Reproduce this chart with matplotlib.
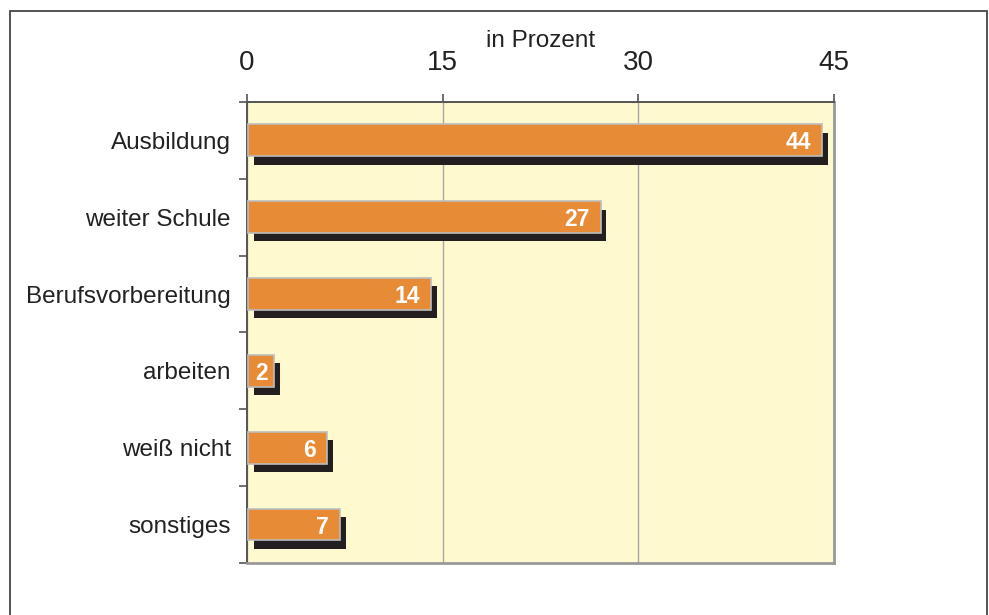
import matplotlib.pyplot as plt
import matplotlib.patheffects as pe
from matplotlib.patches import Rectangle
from matplotlib.ticker import FixedLocator

categories = ['Ausbildung', 'weiter Schule', 'Berufsvorbereitung', 'arbeiten', 'weiß nicht', 'sonstiges']
values = [44, 27, 14, 2, 6, 7]
xticks = [0, 15, 30, 45]

plt.rcParams['font.family'] = ['Liberation Sans', 'DejaVu Sans']

fig = plt.figure(figsize=(9.89, 6.15), dpi=100)
ax = fig.add_axes([0.2497, 0.0846, 0.5936, 0.7496])
ax.set_facecolor('#fff9cf')

ypos = list(range(len(categories)))
shadow = [pe.SimplePatchShadow(offset=(4.3, -6.0), shadow_rgbFace='#231f20', alpha=1.0), pe.Normal()]
bars = ax.barh(ypos, values, height=0.415, left=0.1, color='#e88b37',
               edgecolor='#bdbdbd', linewidth=1.2, zorder=3)
for b in bars:
    b.set_path_effects(shadow)

# value labels inside bar ends
for y, v in zip(ypos, values):
    if v < 3:
        ax.annotate(str(v), (v / 2 + 0.1, y), ha='center', va='center_baseline', color='white',
                    fontsize=16.5, fontweight='bold', zorder=4)
    else:
        ax.annotate(str(v), (v, y), xytext=(-7, 0), textcoords='offset points',
                    ha='right', va='center_baseline', color='white', fontsize=16.5,
                    fontweight='bold', zorder=4)

ax.set_xlim(0, 45)
ax.set_ylim(len(categories) - 0.5, -0.5)

ax.xaxis.tick_top()
ax.xaxis.set_label_position('top')
ax.set_xticks(xticks)
ax.tick_params(axis='x', length=5.8, width=1.2, color='#555555', pad=13,
               labelsize=20, labelcolor='#222222')
ax.set_xlabel('in Prozent', fontsize=17.5, color='#222222', labelpad=2)

ax.set_yticks(ypos)
ax.set_yticklabels(categories)
ax.tick_params(axis='y', which='major', length=0, pad=11.5, labelsize=17.5, labelcolor='#222222')
ax.yaxis.set_minor_locator(FixedLocator([i - 0.5 for i in range(len(categories) + 1)]))
ax.tick_params(axis='y', which='minor', length=5.8, width=1.2, color='#555555')

ax.grid(axis='x', color='#a8a8a8', linewidth=1.0, zorder=1)
ax.set_axisbelow(True)

for side in ['top', 'left']:
    ax.spines[side].set_color('#555555')
    ax.spines[side].set_linewidth(1.4)
for side in ['bottom', 'right']:
    ax.spines[side].set_color('#999999')
    ax.spines[side].set_linewidth(2.0)

fig.patches.append(Rectangle((0.0101, -0.05), 0.9879, 1.032, transform=fig.transFigure,
                             fill=False, edgecolor='#444444', linewidth=1.3))

fig.savefig('out.png', dpi=100)
